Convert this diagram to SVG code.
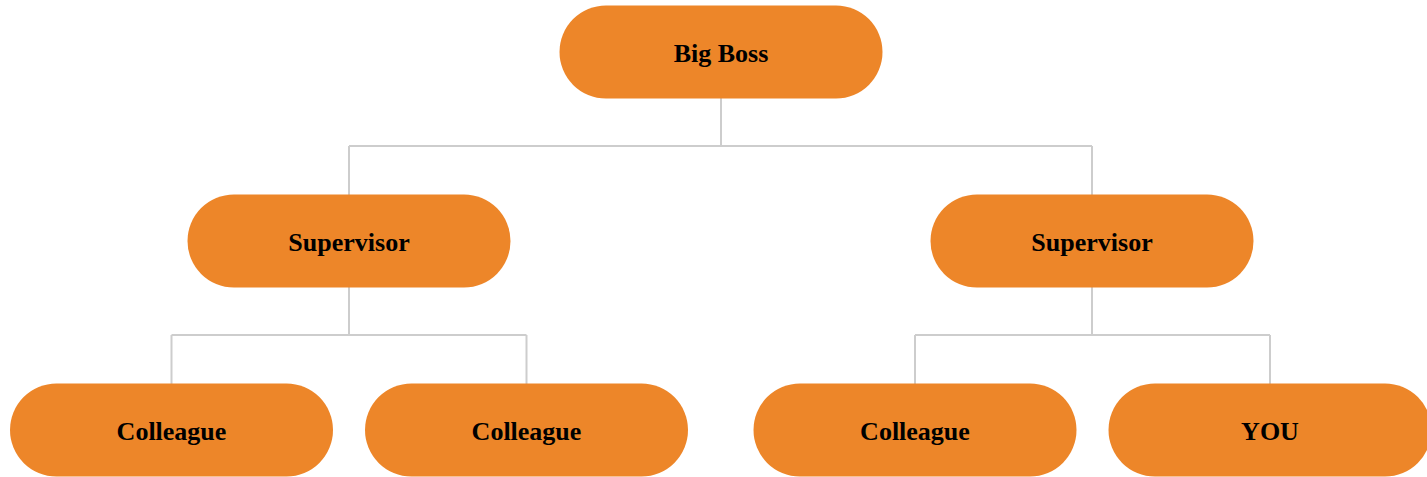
<svg xmlns="http://www.w3.org/2000/svg" width="1427" height="477" viewBox="0 0 1427 477">
  <style>
    .node rect { fill: #ED8629; }
    .node text { font-family: "Liberation Serif", "Times New Roman", serif; font-weight: bold; font-size: 26px; fill: #000; text-anchor: middle; }
    .links path { fill: none; stroke: #CDCDCD; stroke-width: 2; }
  </style>
  <rect width="1427" height="477" fill="#fff"/>
  <g class="links">
    <path d="M721 98 V146 M349 146 H1092 M349 146 V195 M1092 146 V195"/>
    <path d="M349 287 V335 M171.5 335 H526.5 M171.5 335 V384 M526.5 335 V384"/>
    <path d="M1092 287 V335 M915 335 H1270 M915 335 V384 M1270 335 V384"/>
  </g>
  <g id="big-boss" class="node">
    <rect x="559.5" y="5.5" width="323" height="93" rx="46.5"/>
    <text x="721" y="62">Big Boss</text>
  </g>
  <g id="supervisor-left" class="node">
    <rect x="187.5" y="194.5" width="323" height="93" rx="46.5"/>
    <text x="349" y="251">Supervisor</text>
  </g>
  <g id="supervisor-right" class="node">
    <rect x="930.5" y="194.5" width="323" height="93" rx="46.5"/>
    <text x="1092" y="251">Supervisor</text>
  </g>
  <g id="colleague-1" class="node">
    <rect x="10" y="383.5" width="323" height="93" rx="46.5"/>
    <text x="171.5" y="440">Colleague</text>
  </g>
  <g id="colleague-2" class="node">
    <rect x="365" y="383.5" width="323" height="93" rx="46.5"/>
    <text x="526.5" y="440">Colleague</text>
  </g>
  <g id="colleague-3" class="node">
    <rect x="753.5" y="383.5" width="323" height="93" rx="46.5"/>
    <text x="915" y="440">Colleague</text>
  </g>
  <g id="you" class="node">
    <rect x="1108.5" y="383.5" width="323" height="93" rx="46.5"/>
    <text x="1270" y="440">YOU</text>
  </g>
</svg>
